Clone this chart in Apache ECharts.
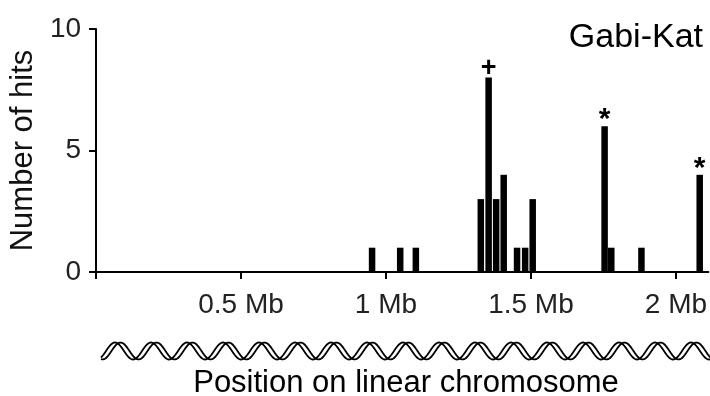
<!DOCTYPE html>
<html>
<head>
<meta charset="utf-8">
<script src="https://cdn.jsdelivr.net/npm/echarts@6/dist/echarts.min.js"></script>
<style>
  html, body { margin: 0; padding: 0; background: #fff; }
  #chart { width: 710px; height: 396px; }
</style>
</head>
<body>
<div id="chart"></div>
<script>
// Hit positions along the chromosome (Mb) and number of hits per bin
const positions = [0.952, 1.049, 1.103, 1.327, 1.354, 1.380, 1.406, 1.452, 1.480, 1.506, 1.754, 1.777, 1.881, 2.082];
const hits = [1, 1, 1, 3, 8, 3, 4, 1, 1, 3, 6, 1, 1, 4];
// markers drawn above some bars
const marks = ['', '', '', '', '+', '', '', '', '', '', '*', '', '', '*'];

const xTicks = [0, 0.5, 1, 1.5, 2];
const xLabels = [0.5, 1, 1.5, 2];
const yTicks = [0, 5, 10];

const FONT = '"Liberation Sans", Arial, sans-serif';

const chart = echarts.init(document.getElementById('chart'));

const barData = positions.map((p, i) => {
  const item = { value: [p, hits[i]] };
  if (marks[i]) {
    item.label = {
      show: true,
      formatter: marks[i],
      distance: marks[i] === '+' ? -4 : -9,
      fontSize: marks[i] === '+' ? 27 : 30,
      fontWeight: 'bold',
      color: '#000',
      fontFamily: FONT
    };
  }
  return item;
});

// decorative double helix under the axis
function helixStrand(phase) {
  const pts = [];
  for (let x = 101; x <= 712; x += 1) {
    pts.push([x, 351 - 8.5 * Math.cos(2 * Math.PI * (x - phase) / 36)]);
  }
  return pts;
}

const option = {
  animation: false,
  backgroundColor: '#fff',
  grid: { left: 95, right: 0, top: 29, bottom: 124 },
  xAxis: {
    type: 'value',
    min: 0,
    max: 2.112,
    interval: 0.5,
    axisLine: { lineStyle: { color: '#000', width: 2 } },
    axisTick: { show: true, length: 7, lineStyle: { color: '#000', width: 2 }, customValues: xTicks },
    axisLabel: {
      customValues: xLabels,
      formatter: v => v + ' Mb',
      fontSize: 28,
      color: '#222',
      fontFamily: FONT,
      margin: 19
    },
    splitLine: { show: false }
  },
  yAxis: {
    type: 'value',
    min: 0,
    max: 10,
    interval: 5,
    name: 'Number of hits',
    nameLocation: 'middle',
    nameGap: 51,
    nameTextStyle: { fontSize: 31, color: '#111', fontFamily: FONT },
    axisLine: { show: true, lineStyle: { color: '#000', width: 2 } },
    axisTick: { show: true, length: 7, lineStyle: { color: '#000', width: 2 }, customValues: yTicks },
    axisLabel: { fontSize: 28, color: '#222', fontFamily: FONT, margin: 15 },
    splitLine: { show: false }
  },
  series: [{
    type: 'bar',
    data: barData,
    barWidth: 6.5,
    itemStyle: { color: '#000' },
    label: { show: false, position: 'top' }
  }],
  graphic: [
    {
      type: 'text',
      right: 7,
      top: 21,
      style: { text: 'Gabi-Kat', fontSize: 34, fill: '#000', fontFamily: FONT }
    },
    {
      type: 'text',
      x: 406,
      y: 383,
      style: { text: 'Position on linear chromosome', fontSize: 31, fill: '#000', fontFamily: FONT, align: 'center', verticalAlign: 'middle' }
    },
    {
      type: 'polyline',
      shape: { points: helixStrand(115) },
      style: { stroke: '#000', lineWidth: 1.8, fill: null }
    },
    {
      type: 'polyline',
      shape: { points: helixStrand(120.5) },
      style: { stroke: '#000', lineWidth: 1.8, fill: null }
    }
  ]
};

chart.setOption(option);
</script>
</body>
</html>
